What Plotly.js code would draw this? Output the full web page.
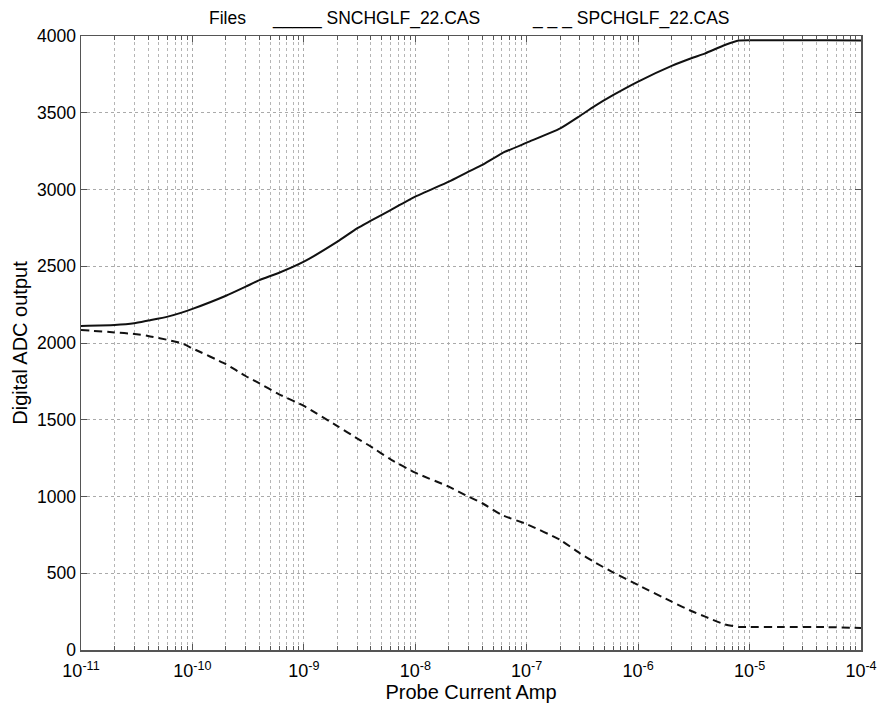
<!DOCTYPE html>
<html>
<head>
<meta charset="utf-8">
<script src="https://cdn.plot.ly/plotly-3.0.1.min.js"></script>
<style>html,body{margin:0;padding:0;background:#fff;}#chart{width:879px;height:710px;}</style>
</head>
<body>
<div id="chart"></div>
<script>
var current = [1e-11, 2e-11, 3e-11, 4e-11, 6e-11, 8e-11, 1e-10, 2e-10, 3e-10, 4e-10, 6e-10, 1e-9, 2e-9, 3e-9, 4e-9, 6e-9, 1e-8, 2e-8, 3e-8, 4e-8, 6e-8, 1e-7, 2e-7, 3e-7, 4e-7, 6e-7, 1e-6, 2e-6, 3e-6, 4e-6, 6e-6, 8e-6, 1e-5, 2e-5, 5e-5, 1e-4];
var sn = [2111, 2117, 2128, 2146, 2172, 2198, 2222, 2308, 2367, 2410, 2458, 2530, 2660, 2747, 2797, 2866, 2953, 3051, 3116, 3160, 3236, 3305, 3398, 3479, 3540, 3616, 3703, 3805, 3855, 3887, 3941, 3970, 3972, 3972, 3972, 3970];
var sp = [2085, 2069, 2059, 2046, 2020, 1998, 1965, 1862, 1785, 1737, 1666, 1590, 1459, 1379, 1325, 1242, 1155, 1064, 999, 956, 879, 820, 717, 630, 575, 504, 423, 315, 254, 217, 167, 150, 150, 150, 149, 143];
var xTicks = [1e-11, 1e-10, 1e-9, 1e-8, 1e-7, 1e-6, 1e-5, 1e-4];
var xTickText = ['10<sup>-11</sup>', '10<sup>-10</sup>', '10<sup>-9</sup>', '10<sup>-8</sup>', '10<sup>-7</sup>', '10<sup>-6</sup>', '10<sup>-5</sup>', '10<sup>-4</sup>'];
var yTicks = [0, 500, 1000, 1500, 2000, 2500, 3000, 3500, 4000];
var seriesNames = ['SNCHGLF_22.CAS', 'SPCHGLF_22.CAS'];

var font = 'Liberation Sans, Arial, sans-serif';
var data = [
  {x: current, y: sn, type: 'scatter', mode: 'lines', name: seriesNames[0],
   line: {color: '#111', width: 2, shape: 'spline', smoothing: 0.5}},
  {x: current, y: sp, type: 'scatter', mode: 'lines', name: seriesNames[1],
   line: {color: '#111', width: 2, dash: '8px,5px', shape: 'spline', smoothing: 0.5}}
];
var layout = {
  width: 879, height: 710,
  margin: {l: 81, r: 18, t: 36, b: 60},
  paper_bgcolor: '#fff', plot_bgcolor: '#fff',
  showlegend: false,
  font: {family: font, size: 17, color: '#000'},
  xaxis: {
    type: 'log', range: [-11, -4], tickvals: xTicks, ticktext: xTickText,
    showline: true, linecolor: '#555', linewidth: 1.5, mirror: 'ticks',
    ticks: 'inside', ticklen: 6, tickcolor: '#555',
    showgrid: true, gridcolor: '#aaa', griddash: 'dot', gridwidth: 1,
    minor: {dtick: 'D1', showgrid: true, gridcolor: '#b5b5b5', griddash: 'dot', ticks: 'inside', ticklen: 4, tickcolor: '#555'},
    zeroline: false,
    ticklabelstandoff: 4,
    tickfont: {size: 18},
    title: {text: 'Probe Current Amp', font: {size: 20}, standoff: 0}
  },
  yaxis: {
    range: [0, 4000], tickvals: yTicks,
    showline: true, linecolor: '#555', linewidth: 1.5, mirror: 'ticks',
    ticks: 'inside', ticklen: 6, tickcolor: '#555',
    showgrid: true, gridcolor: '#aaa', griddash: 'dot', gridwidth: 1,
    zeroline: false,
    tickfont: {size: 17.5},
    title: {text: 'Digital ADC output', font: {size: 20}, standoff: 4}
  },
  annotations: [
    {xref: 'paper', yref: 'paper', x: (207 - 81) / 780, y: 1, yshift: 18, yanchor: 'middle', xanchor: 'left', showarrow: false, text: 'Files', font: {size: 17.5}},
    {xref: 'paper', yref: 'paper', x: (270 - 81) / 780, y: 1, yshift: 18, yanchor: 'middle', xanchor: 'left', showarrow: false, text: '_____ ' + seriesNames[0], font: {size: 17.5}},
    {xref: 'paper', yref: 'paper', x: (530 - 81) / 780, y: 1, yshift: 18, yanchor: 'middle', xanchor: 'left', showarrow: false, text: '_ _ _ ' + seriesNames[1], font: {size: 17.5}}
  ]
};
Plotly.newPlot('chart', data, layout, {displayModeBar: false, staticPlot: true});
</script>
</body>
</html>
